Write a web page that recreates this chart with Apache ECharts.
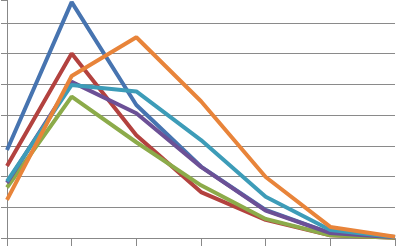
<!DOCTYPE html>
<html><head><meta charset="utf-8">
<script src="https://cdn.jsdelivr.net/npm/echarts@6/dist/echarts.min.js"></script>
<style>html,body{margin:0;padding:0;background:#fff}#c{width:396px;height:246px}</style>
</head><body><div id="c"></div>
<script>
const categories = ['1','2','3','4','5','6','7'];
const blue   = [2.87, 7.67, 4.33, 2.33, 0.92, 0.17, 0.03];
const red    = [2.35, 6.0, 3.35, 1.5, 0.6, 0.1, 0.02];
const green  = [1.65, 4.6, 3.12, 1.72, 0.63, 0.1, 0.02];
const purple = [1.8, 5.08, 4.06, 2.32, 0.9, 0.17, 0.03];
const teal   = [1.85, 4.98, 4.77, 3.19, 1.35, 0.27, 0.04];
const orange = [1.25, 5.27, 6.53, 4.45, 1.99, 0.37, 0.05];
const names = ['S1','S2','S3','S4','S5','S6'];
const colors = ['#4774b0','#b3423f','#8cab4a','#6c5096','#3d9cb8','#e8843a'];
const data = [blue, red, green, purple, teal, orange];
const chart = echarts.init(document.getElementById('c'));
chart.setOption({
  animation: false,
  grid: {left: 7, right: 1, top: 0, bottom: 7.7, containLabel: false},
  xAxis: {type: 'category', data: categories, boundaryGap: false,
    axisLine: {lineStyle: {color: '#888', width: 1}},
    axisTick: {show: true, length: 8, lineStyle: {color: '#888'}},
    axisLabel: {show: false}, splitLine: {show: false}},
  yAxis: {type: 'value', min: 0, max: 7.74, interval: 1,
    axisLine: {show: true, lineStyle: {color: '#888', width: 1}},
    axisTick: {show: true, length: 6, inside: false, lineStyle: {color: '#888'}},
    axisLabel: {show: false},
    splitLine: {showMaxLine: false, lineStyle: {color: '#8a8a8a', width: 1}}},
  series: data.map((d, i) => ({type: 'line', name: names[i], data: d, symbol: 'none',
    lineStyle: {width: 4, color: colors[i]}, itemStyle: {color: colors[i]}}))
});
</script></body></html>
